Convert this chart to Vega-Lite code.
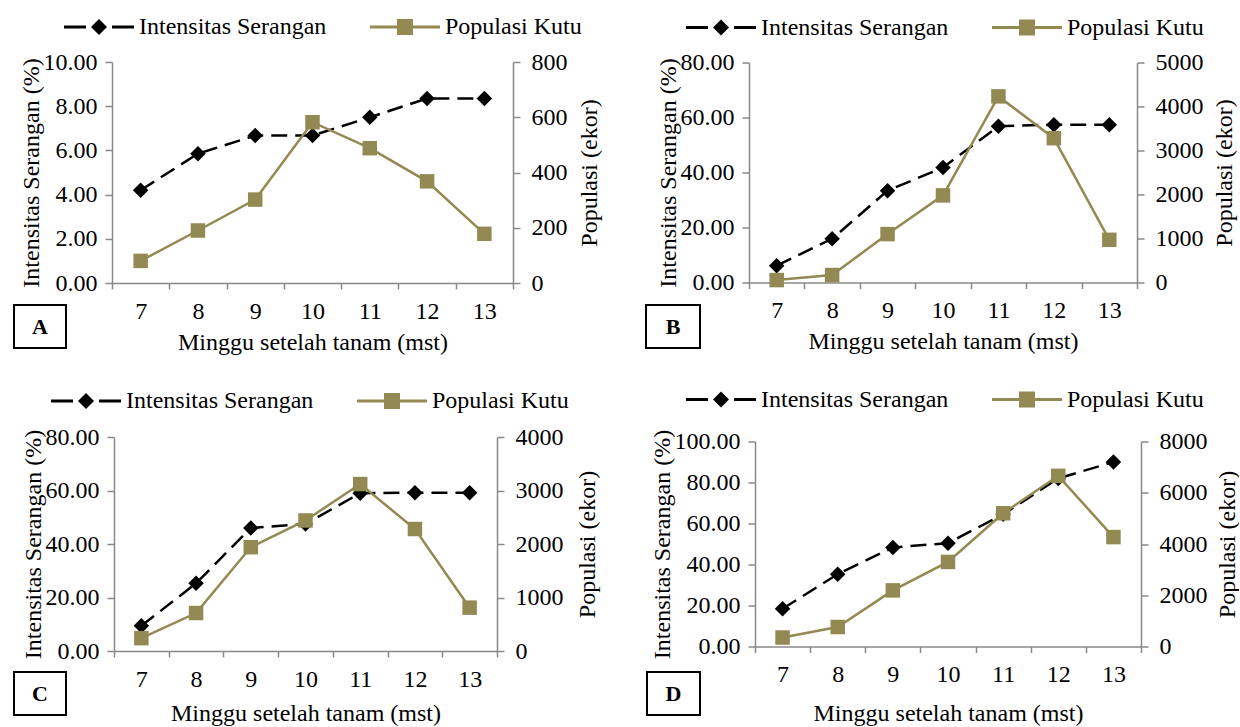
{
  "$schema": "https://vega.github.io/schema/vega-lite/v6.json",
  "padding": {"left": 13, "top": 15, "right": 0, "bottom": 0},
  "config": {
    "font": "Liberation Serif",
    "view": {"stroke": null},
    "axis": {"grid": false, "domainColor": "#898989", "tickColor": "#898989", "domainWidth": 1.5, "tickWidth": 1.5, "labelFontSize": 24, "titleFontSize": 24, "titleFontWeight": "normal", "labelColor": "black", "titleColor": "black", "labelFont": "Liberation Serif", "titleFont": "Liberation Serif"},
    "legend": {"labelFontSize": 24, "labelFont": "Liberation Serif", "labelColor": "black", "symbolSize": 400, "labelOffset": 53, "columnPadding": 41, "padding": 0, "direction": "horizontal", "orient": "none", "labelLimit": 0}
  },
  "data": {"values": [
    {"panel": "A", "minggu": 7, "seri": "Intensitas Serangan", "nilai": 4.2},
    {"panel": "A", "minggu": 8, "seri": "Intensitas Serangan", "nilai": 5.85},
    {"panel": "A", "minggu": 9, "seri": "Intensitas Serangan", "nilai": 6.67},
    {"panel": "A", "minggu": 10, "seri": "Intensitas Serangan", "nilai": 6.67},
    {"panel": "A", "minggu": 11, "seri": "Intensitas Serangan", "nilai": 7.5},
    {"panel": "A", "minggu": 12, "seri": "Intensitas Serangan", "nilai": 8.35},
    {"panel": "A", "minggu": 13, "seri": "Intensitas Serangan", "nilai": 8.35},
    {"panel": "A", "minggu": 7, "seri": "Populasi Kutu", "nilai": 80},
    {"panel": "A", "minggu": 8, "seri": "Populasi Kutu", "nilai": 190},
    {"panel": "A", "minggu": 9, "seri": "Populasi Kutu", "nilai": 302},
    {"panel": "A", "minggu": 10, "seri": "Populasi Kutu", "nilai": 582},
    {"panel": "A", "minggu": 11, "seri": "Populasi Kutu", "nilai": 488},
    {"panel": "A", "minggu": 12, "seri": "Populasi Kutu", "nilai": 368},
    {"panel": "A", "minggu": 13, "seri": "Populasi Kutu", "nilai": 178},
    {"panel": "B", "minggu": 7, "seri": "Intensitas Serangan", "nilai": 6.1},
    {"panel": "B", "minggu": 8, "seri": "Intensitas Serangan", "nilai": 15.9},
    {"panel": "B", "minggu": 9, "seri": "Intensitas Serangan", "nilai": 33.4},
    {"panel": "B", "minggu": 10, "seri": "Intensitas Serangan", "nilai": 41.8},
    {"panel": "B", "minggu": 11, "seri": "Intensitas Serangan", "nilai": 56.8},
    {"panel": "B", "minggu": 12, "seri": "Intensitas Serangan", "nilai": 57.4},
    {"panel": "B", "minggu": 13, "seri": "Intensitas Serangan", "nilai": 57.4},
    {"panel": "B", "minggu": 7, "seri": "Populasi Kutu", "nilai": 55},
    {"panel": "B", "minggu": 8, "seri": "Populasi Kutu", "nilai": 170},
    {"panel": "B", "minggu": 9, "seri": "Populasi Kutu", "nilai": 1100},
    {"panel": "B", "minggu": 10, "seri": "Populasi Kutu", "nilai": 1980},
    {"panel": "B", "minggu": 11, "seri": "Populasi Kutu", "nilai": 4230},
    {"panel": "B", "minggu": 12, "seri": "Populasi Kutu", "nilai": 3280},
    {"panel": "B", "minggu": 13, "seri": "Populasi Kutu", "nilai": 970},
    {"panel": "C", "minggu": 7, "seri": "Intensitas Serangan", "nilai": 9.4},
    {"panel": "C", "minggu": 8, "seri": "Intensitas Serangan", "nilai": 25.3},
    {"panel": "C", "minggu": 9, "seri": "Intensitas Serangan", "nilai": 46.0},
    {"panel": "C", "minggu": 10, "seri": "Intensitas Serangan", "nilai": 47.5},
    {"panel": "C", "minggu": 11, "seri": "Intensitas Serangan", "nilai": 59.0},
    {"panel": "C", "minggu": 12, "seri": "Intensitas Serangan", "nilai": 59.2},
    {"panel": "C", "minggu": 13, "seri": "Intensitas Serangan", "nilai": 59.2},
    {"panel": "C", "minggu": 7, "seri": "Populasi Kutu", "nilai": 240},
    {"panel": "C", "minggu": 8, "seri": "Populasi Kutu", "nilai": 710},
    {"panel": "C", "minggu": 9, "seri": "Populasi Kutu", "nilai": 1940},
    {"panel": "C", "minggu": 10, "seri": "Populasi Kutu", "nilai": 2440},
    {"panel": "C", "minggu": 11, "seri": "Populasi Kutu", "nilai": 3120},
    {"panel": "C", "minggu": 12, "seri": "Populasi Kutu", "nilai": 2280},
    {"panel": "C", "minggu": 13, "seri": "Populasi Kutu", "nilai": 810},
    {"panel": "D", "minggu": 7, "seri": "Intensitas Serangan", "nilai": 18.4},
    {"panel": "D", "minggu": 8, "seri": "Intensitas Serangan", "nilai": 35.3},
    {"panel": "D", "minggu": 9, "seri": "Intensitas Serangan", "nilai": 48.3},
    {"panel": "D", "minggu": 10, "seri": "Intensitas Serangan", "nilai": 50.4},
    {"panel": "D", "minggu": 11, "seri": "Intensitas Serangan", "nilai": 64.5},
    {"panel": "D", "minggu": 12, "seri": "Intensitas Serangan", "nilai": 82.0},
    {"panel": "D", "minggu": 13, "seri": "Intensitas Serangan", "nilai": 90.0},
    {"panel": "D", "minggu": 7, "seri": "Populasi Kutu", "nilai": 350},
    {"panel": "D", "minggu": 8, "seri": "Populasi Kutu", "nilai": 760},
    {"panel": "D", "minggu": 9, "seri": "Populasi Kutu", "nilai": 2190},
    {"panel": "D", "minggu": 10, "seri": "Populasi Kutu", "nilai": 3300},
    {"panel": "D", "minggu": 11, "seri": "Populasi Kutu", "nilai": 5200},
    {"panel": "D", "minggu": 12, "seri": "Populasi Kutu", "nilai": 6660},
    {"panel": "D", "minggu": 13, "seri": "Populasi Kutu", "nilai": 4270}
  ]},
  "resolve": {"scale": {"color": "independent"}, "legend": {"color": "independent"}},
  "spacing": 33,
  "vconcat": [
    {
      "columns": 4,
      "bounds": "flush",
      "spacing": {"row": 22, "column": 0},
      "center": {"row": true},
      "resolve": {"scale": {"color": "independent"}, "legend": {"color": "independent"}},
      "concat": [
        {"width": 98, "height": 1, "data": {"values": [{}]}, "mark": "text", "encoding": {"text": {"value": ""}}},
        {
          "width": 401, "height": 221,
          "transform": [{"filter": "datum.panel === 'A'"}],
          "encoding": {"x": {"field": "minggu", "type": "ordinal", "scale": {"paddingInner": 0, "paddingOuter": 0}, "axis": {"title": "Minggu setelah tanam (mst)", "tickBand": "extent", "labelAngle": 0, "tickSize": 6, "labelPadding": 10, "titlePadding": 7}}},
          "layer": [
            {"transform": [{"filter": "datum.seri === 'Intensitas Serangan'"}],
             "mark": {"type": "line", "strokeDash": [16, 8], "strokeWidth": 2.5, "point": {"shape": "diamond", "filled": true, "size": 240, "opacity": 1}},
             "encoding": {
               "y": {"field": "nilai", "type": "quantitative", "scale": {"domain": [0, 10], "nice": false}, "axis": {"orient": "left", "values": [0, 2, 4, 6, 8, 10], "format": ".2f", "tickSize": 7, "labelPadding": 8, "titlePadding": 0, "title": "Intensitas Serangan (%)"}},
               "color": {"field": "seri", "type": "nominal", "scale": {"domain": ["Intensitas Serangan", "Populasi Kutu"], "range": ["black", "#938953"]},
                 "legend": {"title": null, "legendX": -50, "legendY": -47, "encode": {"symbols": {"update": {"shape": {"signal": "datum.value === 'Intensitas Serangan' ? 'M-1,-0.15L1.2,-0.15L1.2,0.15L-1,0.15Z M2.5,-0.8L3.3,0L2.5,0.8L1.7,0Z M3.8,-0.15L6,-0.15L6,0.15L3.8,0.15Z' : 'M-1,-0.15L6,-0.15L6,0.15L-1,0.15Z M1.7,-0.8L3.3,-0.8L3.3,0.8L1.7,0.8Z'"}, "fill": {"signal": "datum.value === 'Intensitas Serangan' ? 'black' : '#938953'"}, "stroke": {"value": "transparent"}, "strokeWidth": {"value": 0}, "opacity": {"value": 1}, "fillOpacity": {"value": 1}}}}}}
             }},
            {"transform": [{"filter": "datum.seri === 'Populasi Kutu'"}],
             "mark": {"type": "line", "strokeWidth": 2.5, "point": {"shape": "square", "filled": true, "size": 210, "opacity": 1}},
             "encoding": {
               "y": {"field": "nilai", "type": "quantitative", "scale": {"domain": [0, 800], "nice": false}, "axis": {"orient": "right", "values": [0, 200, 400, 600, 800], "format": "d", "tickSize": 7, "labelPadding": 11, "titlePadding": 10, "titleAngle": 270, "titleBaseline": "top", "title": "Populasi (ekor)"}},
               "color": {"field": "seri", "type": "nominal", "scale": {"domain": ["Intensitas Serangan", "Populasi Kutu"], "range": ["black", "#938953"]}, "legend": null}
             }}
          ],
          "resolve": {"scale": {"y": "independent"}}
        },
        {"width": 103, "height": 1, "data": {"values": [{}]}, "mark": "text", "encoding": {"text": {"value": ""}}},
        {
          "width": 388, "height": 220,
          "transform": [{"filter": "datum.panel === 'B'"}],
          "encoding": {"x": {"field": "minggu", "type": "ordinal", "scale": {"paddingInner": 0, "paddingOuter": 0}, "axis": {"title": "Minggu setelah tanam (mst)", "tickBand": "extent", "labelAngle": 0, "tickSize": 6, "labelPadding": 10, "titlePadding": 7}}},
          "layer": [
            {"transform": [{"filter": "datum.seri === 'Intensitas Serangan'"}],
             "mark": {"type": "line", "strokeDash": [16, 8], "strokeWidth": 2.5, "point": {"shape": "diamond", "filled": true, "size": 240, "opacity": 1}},
             "encoding": {
               "y": {"field": "nilai", "type": "quantitative", "scale": {"domain": [0, 80], "nice": false}, "axis": {"orient": "left", "values": [0, 20, 40, 60, 80], "format": ".2f", "tickSize": 7, "labelPadding": 8, "titlePadding": 0, "title": "Intensitas Serangan (%)"}},
               "color": {"field": "seri", "type": "nominal", "scale": {"domain": ["Intensitas Serangan", "Populasi Kutu"], "range": ["black", "#938953"]},
                 "legend": {"title": null, "legendX": -65, "legendY": -47, "encode": {"symbols": {"update": {"shape": {"signal": "datum.value === 'Intensitas Serangan' ? 'M-1,-0.15L1.2,-0.15L1.2,0.15L-1,0.15Z M2.5,-0.8L3.3,0L2.5,0.8L1.7,0Z M3.8,-0.15L6,-0.15L6,0.15L3.8,0.15Z' : 'M-1,-0.15L6,-0.15L6,0.15L-1,0.15Z M1.7,-0.8L3.3,-0.8L3.3,0.8L1.7,0.8Z'"}, "fill": {"signal": "datum.value === 'Intensitas Serangan' ? 'black' : '#938953'"}, "stroke": {"value": "transparent"}, "strokeWidth": {"value": 0}, "opacity": {"value": 1}, "fillOpacity": {"value": 1}}}}}}
             }},
            {"transform": [{"filter": "datum.seri === 'Populasi Kutu'"}],
             "mark": {"type": "line", "strokeWidth": 2.5, "point": {"shape": "square", "filled": true, "size": 210, "opacity": 1}},
             "encoding": {
               "y": {"field": "nilai", "type": "quantitative", "scale": {"domain": [0, 5000], "nice": false}, "axis": {"orient": "right", "values": [0, 1000, 2000, 3000, 4000, 5000], "format": "d", "tickSize": 7, "labelPadding": 11, "titlePadding": 9, "titleAngle": 270, "titleBaseline": "top", "title": "Populasi (ekor)"}},
               "color": {"field": "seri", "type": "nominal", "scale": {"domain": ["Intensitas Serangan", "Populasi Kutu"], "range": ["black", "#938953"]}, "legend": null}
             }}
          ],
          "resolve": {"scale": {"y": "independent"}}
        },
        {"width": 52, "height": 43, "data": {"values": [{"huruf": "A"}]}, "mark": {"type": "text", "fontSize": 22, "fontWeight": "bold", "font": "Liberation Serif", "color": "black"}, "encoding": {"text": {"field": "huruf"}}, "view": {"stroke": "black", "strokeWidth": 2}},
        {"width": 534, "height": 1, "data": {"values": [{}]}, "mark": "text", "encoding": {"text": {"value": ""}}},
        {"width": 54, "height": 43, "data": {"values": [{"huruf": "B"}]}, "mark": {"type": "text", "fontSize": 22, "fontWeight": "bold", "font": "Liberation Serif", "color": "black"}, "encoding": {"text": {"field": "huruf"}}, "view": {"stroke": "black", "strokeWidth": 2}},
        {"width": 1, "height": 1, "data": {"values": [{}]}, "mark": "text", "encoding": {"text": {"value": ""}}}
      ]
    },
    {
      "columns": 4,
      "bounds": "flush",
      "spacing": {"row": 21, "column": 0},
      "center": {"row": true},
      "resolve": {"scale": {"color": "independent"}, "legend": {"color": "independent"}},
      "concat": [
        {"width": 100, "height": 1, "data": {"values": [{}]}, "mark": "text", "encoding": {"text": {"value": ""}}},
        {
          "width": 383, "height": 214,
          "transform": [{"filter": "datum.panel === 'C'"}],
          "encoding": {"x": {"field": "minggu", "type": "ordinal", "scale": {"paddingInner": 0, "paddingOuter": 0}, "axis": {"title": "Minggu setelah tanam (mst)", "tickBand": "extent", "labelAngle": 0, "tickSize": 6, "labelPadding": 10, "titlePadding": 10}}},
          "layer": [
            {"transform": [{"filter": "datum.seri === 'Intensitas Serangan'"}],
             "mark": {"type": "line", "strokeDash": [16, 8], "strokeWidth": 2.5, "point": {"shape": "diamond", "filled": true, "size": 240, "opacity": 1}},
             "encoding": {
               "y": {"field": "nilai", "type": "quantitative", "scale": {"domain": [0, 80], "nice": false}, "axis": {"orient": "left", "values": [0, 20, 40, 60, 80], "format": ".2f", "tickSize": 7, "labelPadding": 8, "titlePadding": 0, "title": "Intensitas Serangan (%)"}},
               "color": {"field": "seri", "type": "nominal", "scale": {"domain": ["Intensitas Serangan", "Populasi Kutu"], "range": ["black", "#938953"]},
                 "legend": {"title": null, "legendX": -65, "legendY": -48, "encode": {"symbols": {"update": {"shape": {"signal": "datum.value === 'Intensitas Serangan' ? 'M-1,-0.15L1.2,-0.15L1.2,0.15L-1,0.15Z M2.5,-0.8L3.3,0L2.5,0.8L1.7,0Z M3.8,-0.15L6,-0.15L6,0.15L3.8,0.15Z' : 'M-1,-0.15L6,-0.15L6,0.15L-1,0.15Z M1.7,-0.8L3.3,-0.8L3.3,0.8L1.7,0.8Z'"}, "fill": {"signal": "datum.value === 'Intensitas Serangan' ? 'black' : '#938953'"}, "stroke": {"value": "transparent"}, "strokeWidth": {"value": 0}, "opacity": {"value": 1}, "fillOpacity": {"value": 1}}}}}}
             }},
            {"transform": [{"filter": "datum.seri === 'Populasi Kutu'"}],
             "mark": {"type": "line", "strokeWidth": 2.5, "point": {"shape": "square", "filled": true, "size": 210, "opacity": 1}},
             "encoding": {
               "y": {"field": "nilai", "type": "quantitative", "scale": {"domain": [0, 4000], "nice": false}, "axis": {"orient": "right", "values": [0, 1000, 2000, 3000, 4000], "format": "d", "tickSize": 7, "labelPadding": 11, "titlePadding": 12, "titleAngle": 270, "titleBaseline": "top", "title": "Populasi (ekor)"}},
               "color": {"field": "seri", "type": "nominal", "scale": {"domain": ["Intensitas Serangan", "Populasi Kutu"], "range": ["black", "#938953"]}, "legend": null}
             }}
          ],
          "resolve": {"scale": {"y": "independent"}}
        },
        {"width": 108, "height": 1, "data": {"values": [{}]}, "mark": "text", "encoding": {"text": {"value": ""}}},
        {
          "width": 386, "height": 205,
          "transform": [{"filter": "datum.panel === 'D'"}],
          "encoding": {"x": {"field": "minggu", "type": "ordinal", "scale": {"paddingInner": 0, "paddingOuter": 0}, "axis": {"title": "Minggu setelah tanam (mst)", "tickBand": "extent", "labelAngle": 0, "tickSize": 6, "labelPadding": 10, "titlePadding": 15}}},
          "layer": [
            {"transform": [{"filter": "datum.seri === 'Intensitas Serangan'"}],
             "mark": {"type": "line", "strokeDash": [16, 8], "strokeWidth": 2.5, "point": {"shape": "diamond", "filled": true, "size": 240, "opacity": 1}},
             "encoding": {
               "y": {"field": "nilai", "type": "quantitative", "scale": {"domain": [0, 100], "nice": false}, "axis": {"orient": "left", "values": [0, 20, 40, 60, 80, 100], "format": ".2f", "tickSize": 7, "labelPadding": 8, "titlePadding": 0, "title": "Intensitas Serangan  (%)"}},
               "color": {"field": "seri", "type": "nominal", "scale": {"domain": ["Intensitas Serangan", "Populasi Kutu"], "range": ["black", "#938953"]},
                 "legend": {"title": null, "legendX": -71, "legendY": -54, "encode": {"symbols": {"update": {"shape": {"signal": "datum.value === 'Intensitas Serangan' ? 'M-1,-0.15L1.2,-0.15L1.2,0.15L-1,0.15Z M2.5,-0.8L3.3,0L2.5,0.8L1.7,0Z M3.8,-0.15L6,-0.15L6,0.15L3.8,0.15Z' : 'M-1,-0.15L6,-0.15L6,0.15L-1,0.15Z M1.7,-0.8L3.3,-0.8L3.3,0.8L1.7,0.8Z'"}, "fill": {"signal": "datum.value === 'Intensitas Serangan' ? 'black' : '#938953'"}, "stroke": {"value": "transparent"}, "strokeWidth": {"value": 0}, "opacity": {"value": 1}, "fillOpacity": {"value": 1}}}}}}
             }},
            {"transform": [{"filter": "datum.seri === 'Populasi Kutu'"}],
             "mark": {"type": "line", "strokeWidth": 2.5, "point": {"shape": "square", "filled": true, "size": 210, "opacity": 1}},
             "encoding": {
               "y": {"field": "nilai", "type": "quantitative", "scale": {"domain": [0, 8000], "nice": false}, "axis": {"orient": "right", "values": [0, 2000, 4000, 6000, 8000], "format": "d", "tickSize": 7, "labelPadding": 11, "titlePadding": 8, "titleAngle": 270, "titleBaseline": "top", "title": "Populasi  (ekor)"}},
               "color": {"field": "seri", "type": "nominal", "scale": {"domain": ["Intensitas Serangan", "Populasi Kutu"], "range": ["black", "#938953"]}, "legend": null}
             }}
          ],
          "resolve": {"scale": {"y": "independent"}}
        },
        {"width": 52, "height": 43, "data": {"values": [{"huruf": "C"}]}, "mark": {"type": "text", "fontSize": 22, "fontWeight": "bold", "font": "Liberation Serif", "color": "black"}, "encoding": {"text": {"field": "huruf"}}, "view": {"stroke": "black", "strokeWidth": 2}},
        {"width": 533, "height": 1, "data": {"values": [{}]}, "mark": "text", "encoding": {"text": {"value": ""}}},
        {"width": 53, "height": 43, "data": {"values": [{"huruf": "D"}]}, "mark": {"type": "text", "fontSize": 22, "fontWeight": "bold", "font": "Liberation Serif", "color": "black"}, "encoding": {"text": {"field": "huruf"}}, "view": {"stroke": "black", "strokeWidth": 2}},
        {"width": 1, "height": 1, "data": {"values": [{}]}, "mark": "text", "encoding": {"text": {"value": ""}}}
      ]
    }
  ]
}
